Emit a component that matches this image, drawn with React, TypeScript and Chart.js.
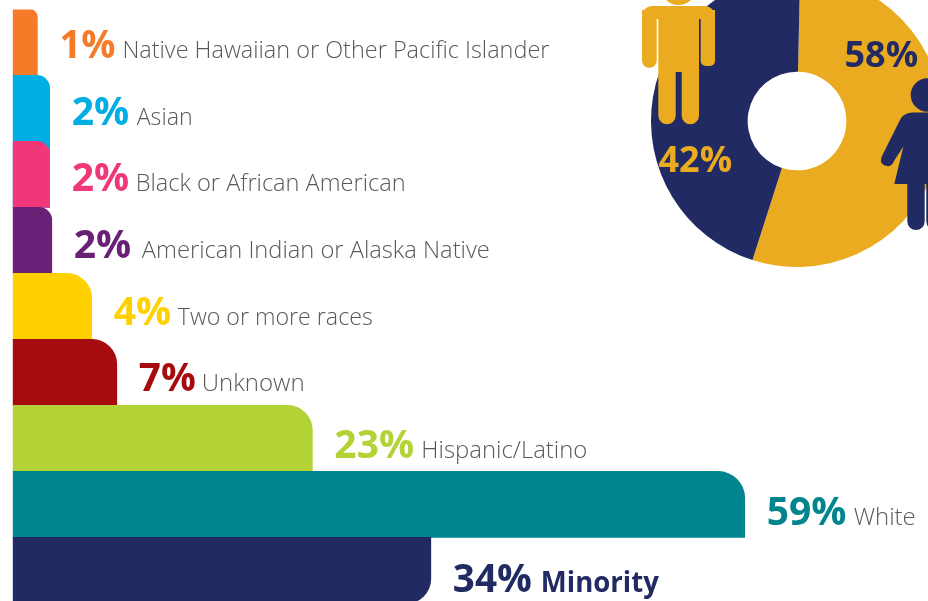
import React, { useEffect, useRef } from "react";
import { Chart, registerables } from "chart.js";

Chart.register(...registerables);

const categories = [
  "Native Hawaiian or Other Pacific Islander",
  "Asian",
  "Black or African American",
  "American Indian or Alaska Native",
  "Two or more races",
  "Unknown",
  "Hispanic/Latino",
  "White",
  "Minority",
];
// Printed percentages
const percentLabels = ["1%", "2%", "2%", "2%", "4%", "7%", "23%", "59%", "34%"];
// Bar lengths as actually drawn in the picture (not proportional to the printed labels)
const barLengths = [1.99, 2.98, 2.98, 3.15, 6.37, 8.39, 24.15, 59, 33.7];
// The Asian bar continues behind the Black or African American bar's rounded corner
const underlayLengths = [null, null, 2.98, null, null, null, null, null, null];
const barColors = ["#F57B28", "#00AEE3", "#F0377A", "#6A2077", "#FFD100", "#A60C0E", "#B2D235", "#00858F", "#212A63"];
const genderLabels = ["58%", "42%"];
// Arc shares as actually drawn in the picture
const genderArcs = [54.6, 45.4];
const genderColors = ["#EAAB21", "#212A63"];

// Layout
const cornerRadii = [8, 13, 13, 13, 25, 25, 25, 27, 25];
const baselineOffsets = [15.6, 16.6, 16.6, 17.6, 18.6, 18.6, 19.6, 20.6, 21.6];
const percentWidths = [56, 58, 58, 58, 59, 57, 80, 81, 79];
const labelStarts = [63, 65, 64, 68, 64, 63, 87, 87, 88];
const labelWidths = [427, 56, 270, 348, 195, 105, 166, 62, 118];
const GREY = "#58595B";
const FONT = '"Open Sans"';

const textPlugin = {
  id: "barText",
  afterDatasetsDraw(chart: any) {
    const { ctx } = chart;
    const bars = chart.getDatasetMeta(0).data;
    ctx.save();
    ctx.textBaseline = "alphabetic";
    ctx.textAlign = "left";
    bars.forEach((bar: any, i: number) => {
      const x = bar.x + 22;
      const y = bar.y + baselineOffsets[i];
      ctx.fillStyle = barColors[i];
      ctx.font = `700 39px ${FONT}`;
      ctx.fillText(percentLabels[i], x, y, percentWidths[i]);
      if (i === 8) {
        ctx.font = `700 28px ${FONT}`;
        ctx.fillStyle = barColors[i];
      } else {
        ctx.font = `300 24px ${FONT}`;
        ctx.fillStyle = GREY;
      }
      ctx.fillText(categories[i], x + labelStarts[i], y, labelWidths[i]);
    });
    ctx.restore();
  },
};

const genderPlugin = {
  id: "genderArt",
  afterDatasetsDraw(chart: any) {
    const { ctx } = chart;
    ctx.save();
    ctx.translate(-641, 35);
    // man
    ctx.fillStyle = genderColors[0];
    ctx.beginPath();
    ctx.arc(678.5, -13, 18, 0, Math.PI * 2);
    ctx.fill();
    const man = new Path2D();
    man.roundRect(642, 6, 73, 13, [10, 10, 0, 0]);
    man.roundRect(642, 10, 14.7, 57.7, [0, 0, 7, 7]);
    man.roundRect(700.7, 10, 14.3, 56, [0, 0, 5, 5]);
    man.rect(658.3, 6, 40.7, 66);
    man.roundRect(658.3, 60, 17.4, 64.3, [0, 0, 8.7, 8.7]);
    man.roundRect(681.7, 60, 17.3, 64.3, [0, 0, 8.6, 8.6]);
    ctx.fill(man);
    // woman
    ctx.fillStyle = genderColors[1];
    ctx.beginPath();
    ctx.arc(927.4, 95, 16.7, 0, Math.PI * 2);
    ctx.fill();
    ctx.beginPath();
    ctx.moveTo(940, 112.5);
    ctx.lineTo(912, 112.5);
    ctx.quadraticCurveTo(903, 113, 900, 120);
    ctx.lineTo(881.5, 157);
    ctx.quadraticCurveTo(879, 165, 887, 166);
    ctx.quadraticCurveTo(892, 167, 894, 161);
    ctx.lineTo(903.3, 146.5);
    ctx.lineTo(894.3, 184);
    ctx.lineTo(940, 184);
    ctx.closePath();
    ctx.fill();
    const legs = new Path2D();
    legs.roundRect(907.3, 180, 17.4, 50, [0, 0, 8.7, 8.7]);
    legs.roundRect(926.3, 180, 17.4, 50, [0, 0, 8.7, 8.7]);
    ctx.fill(legs);
    // labels
    ctx.textBaseline = "alphabetic";
    ctx.textAlign = "left";
    ctx.font = `700 36px ${FONT}`;
    ctx.fillStyle = genderColors[1];
    ctx.fillText(genderLabels[0], 844.5, 66.5, 75);
    ctx.fillStyle = genderColors[0];
    ctx.fillText(genderLabels[1], 658.5, 171.5, 76);
    ctx.restore();
  },
};

export default function App() {
  const barRef = useRef<HTMLCanvasElement>(null);
  const pieRef = useRef<HTMLCanvasElement>(null);

  useEffect(() => {
    const barChart = new Chart(barRef.current!, {
      type: "bar",
      data: {
        labels: categories,
        datasets: [
          {
            data: barLengths,
            backgroundColor: barColors,
            borderWidth: 0,
            grouped: false,
            order: 1,
            barPercentage: 1,
            categoryPercentage: 1,
            borderRadius: (c: any) =>
              c.dataIndex === 8
                ? { topLeft: 0, topRight: 0, bottomLeft: 0, bottomRight: cornerRadii[8] }
                : { topLeft: 0, topRight: cornerRadii[c.dataIndex], bottomLeft: 0, bottomRight: 0 },
          },
          {
            data: underlayLengths,
            backgroundColor: barColors[1],
            borderWidth: 0,
            grouped: false,
            order: 2,
            barPercentage: 1,
            categoryPercentage: 1,
          },
        ],
      } as any,
      options: {
        indexAxis: "y",
        responsive: false,
        animation: false,
        layout: { padding: { left: 12.7, right: 0, top: 9.4, bottom: 16.6 } },
        scales: {
          x: { display: false, min: 0, max: 73.77 },
          y: { display: false },
        },
        plugins: { legend: { display: false }, tooltip: { enabled: false } },
      } as any,
      plugins: [textPlugin],
    });

    const pieChart = new Chart(pieRef.current!, {
      type: "doughnut",
      data: {
        labels: genderLabels,
        datasets: [{ data: genderArcs, backgroundColor: genderColors, borderWidth: 0 }],
      },
      options: {
        responsive: false,
        animation: false,
        rotation: 1.2,
        cutout: "33.8%",
        layout: { padding: 10 },
        plugins: { legend: { display: false }, tooltip: { enabled: false } },
      } as any,
      plugins: [genderPlugin],
    });

    return () => {
      barChart.destroy();
      pieChart.destroy();
    };
  }, []);

  return (
    <div style={{ position: "fixed", left: 0, top: 0, width: 928, height: 601, overflow: "hidden", background: "#fff" }}>
      <canvas ref={barRef} width={928} height={620} style={{ position: "absolute", left: 0, top: 0 }} />
      <canvas ref={pieRef} width={312} height={312} style={{ position: "absolute", left: 641, top: -35 }} />
    </div>
  );
}
